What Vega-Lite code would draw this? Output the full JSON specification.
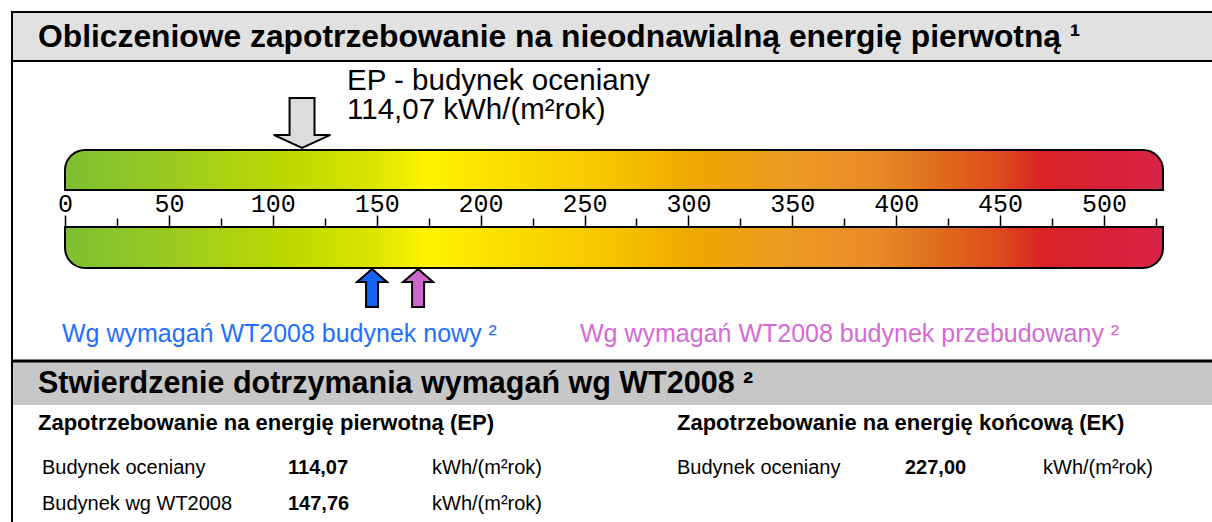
{
  "$schema": "https://vega.github.io/schema/vega-lite/v6.json",
  "width": 1212,
  "height": 522,
  "autosize": {"type": "none"},
  "padding": 0,
  "background": "white",
  "config": {
    "view": {"stroke": null},
    "text": {"font": "Liberation Sans", "color": "#000"},
    "locale": {"number": {"decimal": ",", "thousands": "\u00a0", "grouping": [3], "currency": ["", " zł"]}}
  },
  "datasets": {
    "ep": [{"label": "EP - budynek oceniany", "kwh": 114.07, "caption": ["EP - budynek oceniany", "114,07 kWh/(m²rok)"]}],
    "refs": [
      {"ref": "Wg wymagań WT2008 budynek nowy ²", "kwh": 147.76},
      {"ref": "Wg wymagań WT2008 budynek przebudowany ²", "kwh": 169.92}
    ],
    "scale": [{"start": 0, "end": 528.4}],
    "groups": [
      {"group": "Zapotrzebowanie na energię pierwotną (EP)"},
      {"group": "Zapotrzebowanie na energię końcową (EK)"}
    ],
    "table": [
      {"group": "Zapotrzebowanie na energię pierwotną (EP)", "label": "Budynek oceniany", "value": 114.07, "unit": "kWh/(m²rok)"},
      {"group": "Zapotrzebowanie na energię pierwotną (EP)", "label": "Budynek wg WT2008", "value": 147.76, "unit": "kWh/(m²rok)"},
      {"group": "Zapotrzebowanie na energię końcową (EK)", "label": "Budynek oceniany", "value": 227.0, "unit": "kWh/(m²rok)"}
    ]
  },
  "resolve": {"scale": {"x": "independent", "y": "independent", "fill": "independent"}, "axis": {"x": "independent", "y": "independent"}},
  "layer": [
    {
      "data": {"values": [{"heading": "Obliczeniowe zapotrzebowanie na nieodnawialną energię pierwotną ¹"}]},
      "layer": [
        {"mark": {"type": "rect", "fill": "#e1e1e1", "stroke": "#000", "strokeWidth": 2},
         "encoding": {"x": {"value": 12}, "x2": {"value": 1220}, "y": {"value": 12}, "y2": {"value": 61}}},
        {"mark": {"type": "rule", "stroke": "#000", "strokeWidth": 2},
         "encoding": {"x": {"value": 12}, "y": {"value": 12}, "y2": {"value": 530}}},
        {"mark": {"type": "text", "align": "left", "baseline": "alphabetic", "fontSize": 31.8, "fontWeight": "bold"},
         "encoding": {"text": {"field": "heading"}, "x": {"value": 38}, "y": {"value": 47}}}
      ]
    },
    {
      "data": {"values": [{"heading": "Stwierdzenie dotrzymania wymagań wg WT2008 ²"}]},
      "layer": [
        {"mark": {"type": "rect", "fill": "#c7c7c7"},
         "encoding": {"x": {"value": 13}, "x2": {"value": 1220}, "y": {"value": 362}, "y2": {"value": 405}}},
        {"mark": {"type": "rule", "stroke": "#000", "strokeWidth": 3},
         "encoding": {"x": {"value": 12}, "x2": {"value": 1220}, "y": {"value": 361}}},
        {"mark": {"type": "text", "align": "left", "baseline": "alphabetic", "fontSize": 30.5, "fontWeight": "bold"},
         "encoding": {"text": {"field": "heading"}, "x": {"value": 38}, "y": {"value": 393}}}
      ]
    },
    {
      "resolve": {"axis": {"x": "independent"}},
      "layer": [
        {
          "data": {"name": "scale"},
          "mark": {"type": "rect", "stroke": "#000", "strokeWidth": 2, "cornerRadiusTopLeft": 20, "cornerRadiusTopRight": 20,
            "fill": {"gradient": "linear", "x1": 0, "x2": 1, "y1": 0, "y2": 0, "stops": [
              {"offset": 0, "color": "#7cbf30"}, {"offset": 0.1, "color": "#9ccb20"}, {"offset": 0.2, "color": "#bcd800"},
              {"offset": 0.28, "color": "#dae500"}, {"offset": 0.33, "color": "#fff300"}, {"offset": 0.42, "color": "#fad800"},
              {"offset": 0.5, "color": "#f6c400"}, {"offset": 0.57, "color": "#f0a800"}, {"offset": 0.66, "color": "#ec9a24"},
              {"offset": 0.74, "color": "#e88a28"}, {"offset": 0.8, "color": "#e06a1c"}, {"offset": 0.85, "color": "#de4c1c"},
              {"offset": 0.89, "color": "#d82224"}, {"offset": 1, "color": "#d82248"}]}},
          "encoding": {
            "x": {"field": "start", "type": "quantitative", "scale": {"domain": [-31.28, 551.97], "nice": false, "zero": false},
              "axis": {"orient": "top", "offset": -227, "values": [0, 50, 100, 150, 200, 250, 300, 350, 400, 450, 500],
                "domain": false, "grid": false, "tickSize": 12, "tickWidth": 1.5, "tickColor": "#000",
                "labelFont": "Liberation Mono", "labelFontSize": 25, "labelColor": "#000", "labelPadding": -1,
                "labelOverlap": false, "labelFlush": false, "labelBound": false, "title": null, "format": "d", "zindex": 1}},
            "x2": {"field": "end"},
            "y": {"value": 150}, "y2": {"value": 190}
          }
        },
        {
          "data": {"name": "scale"},
          "mark": {"type": "rect", "stroke": "#000", "strokeWidth": 2, "cornerRadiusBottomLeft": 20, "cornerRadiusBottomRight": 20,
            "fill": {"gradient": "linear", "x1": 0, "x2": 1, "y1": 0, "y2": 0, "stops": [
              {"offset": 0, "color": "#7cbf30"}, {"offset": 0.1, "color": "#9ccb20"}, {"offset": 0.2, "color": "#bcd800"},
              {"offset": 0.28, "color": "#dae500"}, {"offset": 0.33, "color": "#fff300"}, {"offset": 0.42, "color": "#fad800"},
              {"offset": 0.5, "color": "#f6c400"}, {"offset": 0.57, "color": "#f0a800"}, {"offset": 0.66, "color": "#ec9a24"},
              {"offset": 0.74, "color": "#e88a28"}, {"offset": 0.8, "color": "#e06a1c"}, {"offset": 0.85, "color": "#de4c1c"},
              {"offset": 0.89, "color": "#d82224"}, {"offset": 1, "color": "#d82248"}]}},
          "encoding": {
            "x": {"field": "start", "type": "quantitative",
              "axis": {"orient": "top", "offset": -227, "values": [25, 75, 125, 175, 225, 275, 325, 375, 425, 475, 525],
                "domain": false, "grid": false, "tickSize": 9, "tickWidth": 1.5, "tickColor": "#000",
                "labels": false, "title": null, "zindex": 1}},
            "x2": {"field": "end"},
            "y": {"value": 227}, "y2": {"value": 268}
          }
        },
        {
          "data": {"name": "ep"},
          "mark": {"type": "point", "filled": true, "fill": "#dcdcdc", "stroke": "#000", "strokeWidth": 2, "opacity": 1, "size": 3364,
            "shape": "M-0.43,-0.86L0.43,-0.86L0.43,0.41L0.98,0.41L0,0.86L-0.98,0.41L-0.43,0.41Z"},
          "encoding": {"x": {"field": "kwh", "type": "quantitative", "axis": null}, "y": {"value": 123}}
        },
        {
          "data": {"name": "ep"},
          "mark": {"type": "text", "align": "left", "baseline": "alphabetic", "fontSize": 29.5, "lineHeight": 29, "dx": 45},
          "encoding": {"x": {"field": "kwh", "type": "quantitative", "axis": null}, "y": {"value": 90}, "text": {"field": "caption"}}
        },
        {
          "data": {"name": "refs"},
          "mark": {"type": "point", "filled": true, "stroke": "#000", "strokeWidth": 2, "opacity": 1, "size": 1600,
            "shape": "M0,-0.95L0.75,-0.3L0.3,-0.3L0.3,0.95L-0.3,0.95L-0.3,-0.3L-0.75,-0.3Z"},
          "encoding": {
            "x": {"field": "kwh", "type": "quantitative", "axis": null},
            "y": {"value": 288},
            "fill": {"field": "ref", "type": "nominal", "legend": null,
              "scale": {"domain": ["Wg wymagań WT2008 budynek nowy ²", "Wg wymagań WT2008 budynek przebudowany ²"], "range": ["#1464f4", "#cc66cc"]}}
          }
        }
      ]
    },
    {
      "data": {"name": "refs"},
      "mark": {"type": "text", "align": "left", "baseline": "alphabetic", "fontSize": 25},
      "encoding": {
        "x": {"field": "ref", "type": "nominal", "axis": null,
          "scale": {"type": "point", "domain": ["Wg wymagań WT2008 budynek nowy ²", "Wg wymagań WT2008 budynek przebudowany ²"], "range": [62, 580], "padding": 0}},
        "y": {"value": 342},
        "text": {"field": "ref"},
        "fill": {"field": "ref", "type": "nominal", "legend": null,
          "scale": {"domain": ["Wg wymagań WT2008 budynek nowy ²", "Wg wymagań WT2008 budynek przebudowany ²"], "range": ["#1f6fff", "#d36ad6"]}}
      }
    },
    {
      "data": {"name": "groups"},
      "mark": {"type": "text", "align": "left", "baseline": "alphabetic", "fontSize": 22, "fontWeight": "bold"},
      "encoding": {
        "x": {"field": "group", "type": "nominal", "axis": null,
          "scale": {"type": "point", "domain": ["Zapotrzebowanie na energię pierwotną (EP)", "Zapotrzebowanie na energię końcową (EK)"], "range": [38, 677], "padding": 0}},
        "y": {"value": 430},
        "text": {"field": "group"}
      }
    },
    {
      "data": {"name": "table"},
      "mark": {"type": "text", "align": "left", "baseline": "alphabetic", "fontSize": 20},
      "encoding": {
        "x": {"field": "group", "type": "nominal", "axis": null,
          "scale": {"type": "point", "domain": ["Zapotrzebowanie na energię pierwotną (EP)", "Zapotrzebowanie na energię końcową (EK)"], "range": [42, 677], "padding": 0}},
        "y": {"field": "label", "type": "nominal", "axis": null,
          "scale": {"type": "point", "domain": ["Budynek oceniany", "Budynek wg WT2008"], "range": [474, 510], "padding": 0}},
        "text": {"field": "label"}
      }
    },
    {
      "data": {"name": "table"},
      "mark": {"type": "text", "align": "left", "baseline": "alphabetic", "fontSize": 20, "fontWeight": "bold"},
      "encoding": {
        "x": {"field": "group", "type": "nominal", "axis": null,
          "scale": {"type": "point", "domain": ["Zapotrzebowanie na energię pierwotną (EP)", "Zapotrzebowanie na energię końcową (EK)"], "range": [288, 905], "padding": 0}},
        "y": {"field": "label", "type": "nominal", "axis": null,
          "scale": {"type": "point", "domain": ["Budynek oceniany", "Budynek wg WT2008"], "range": [474, 510], "padding": 0}},
        "text": {"field": "value", "type": "quantitative", "format": ".2f"}
      }
    },
    {
      "data": {"name": "table"},
      "mark": {"type": "text", "align": "left", "baseline": "alphabetic", "fontSize": 20},
      "encoding": {
        "x": {"field": "group", "type": "nominal", "axis": null,
          "scale": {"type": "point", "domain": ["Zapotrzebowanie na energię pierwotną (EP)", "Zapotrzebowanie na energię końcową (EK)"], "range": [432, 1043], "padding": 0}},
        "y": {"field": "label", "type": "nominal", "axis": null,
          "scale": {"type": "point", "domain": ["Budynek oceniany", "Budynek wg WT2008"], "range": [474, 510], "padding": 0}},
        "text": {"field": "unit"}
      }
    }
  ]
}
